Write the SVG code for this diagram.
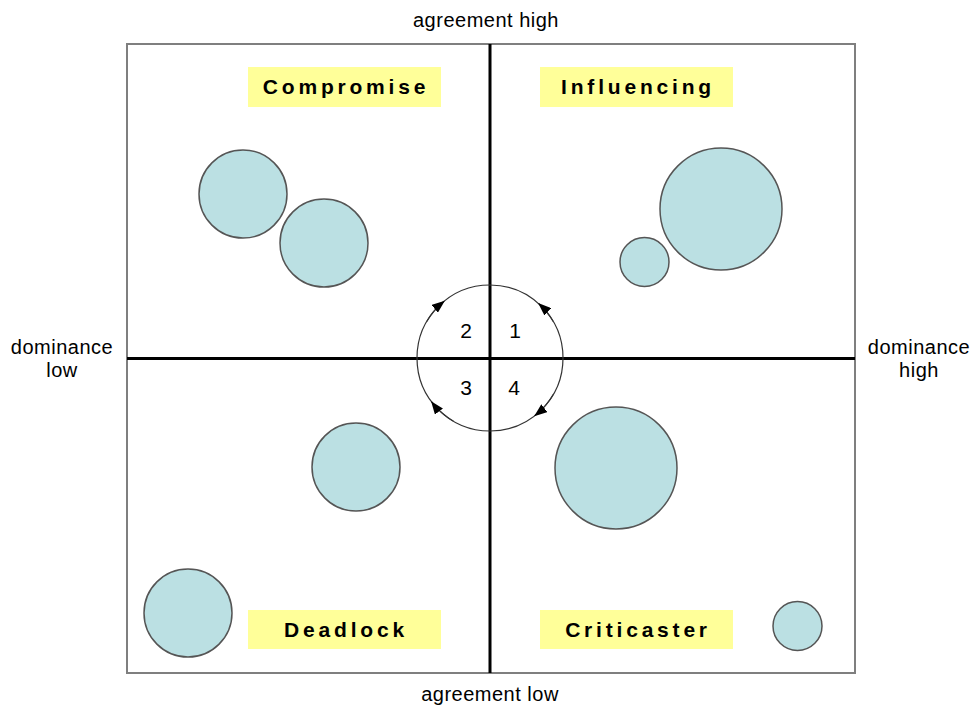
<svg xmlns="http://www.w3.org/2000/svg" width="973" height="707" viewBox="0 0 973 707">
  <style>
    .frame { fill: none; stroke: #7f7f7f; stroke-width: 2; }
    .axis { stroke: #000; stroke-width: 3; }
    .bubble { fill: #bbe0e3; stroke: #555; stroke-width: 1.5; }
    .tag { fill: #ffff99; }
    .tagtext { font-family: "Liberation Sans", Arial, sans-serif; font-weight: bold; font-size: 21px; letter-spacing: 3.8px; fill: #000; text-anchor: middle; }
    .axtext { font-family: "Liberation Sans", Arial, sans-serif; font-size: 20px; letter-spacing: 0.5px; fill: #000; text-anchor: middle; }
    .num { font-family: "Liberation Sans", Arial, sans-serif; font-size: 21px; fill: #000; text-anchor: middle; }
    .cycle { fill: none; stroke: #333; stroke-width: 1.2; }
  </style>
  <defs>
    <marker id="tip" viewBox="0 0 13 10" markerWidth="13" markerHeight="10" refX="12" refY="5" orient="auto" markerUnits="userSpaceOnUse">
      <path d="M0,0 L13,5 L0,10 z" fill="#000"/>
    </marker>
  </defs>

  <rect width="973" height="707" fill="#fff"/>

  <!-- quadrant frame and axes -->
  <g id="grid">
    <rect class="frame" x="127" y="44" width="728" height="629"/>
    <line class="axis" x1="127" y1="358.5" x2="855" y2="358.5"/>
    <line class="axis" x1="490" y1="44" x2="490" y2="673"/>
  </g>

  <!-- axis labels -->
  <g id="axis-labels">
    <text class="axtext" x="486" y="27">agreement high</text>
    <text class="axtext" x="490" y="701">agreement low</text>
    <text class="axtext" x="62" y="354">dominance</text>
    <text class="axtext" x="62" y="377">low</text>
    <text class="axtext" x="919" y="354">dominance</text>
    <text class="axtext" x="919" y="377">high</text>
  </g>

  <!-- quadrant titles -->
  <g id="compromise">
    <rect class="tag" x="248" y="67" width="193" height="40"/>
    <text class="tagtext" x="346" y="94">Compromise</text>
  </g>
  <g id="influencing">
    <rect class="tag" x="540" y="67" width="193" height="40"/>
    <text class="tagtext" x="638" y="94">Influencing</text>
  </g>
  <g id="deadlock">
    <rect class="tag" x="248" y="610" width="193" height="39"/>
    <text class="tagtext" x="346" y="637">Deadlock</text>
  </g>
  <g id="criticaster">
    <rect class="tag" x="540" y="610" width="193" height="39"/>
    <text class="tagtext" x="638" y="637">Criticaster</text>
  </g>

  <!-- bubbles -->
  <g id="bubbles">
    <circle class="bubble" cx="243" cy="194" r="44"/>
    <circle class="bubble" cx="324" cy="243" r="44"/>
    <circle class="bubble" cx="721" cy="209" r="61"/>
    <circle class="bubble" cx="644.5" cy="262" r="24.5"/>
    <circle class="bubble" cx="356" cy="467" r="44"/>
    <circle class="bubble" cx="616" cy="468" r="61"/>
    <circle class="bubble" cx="188" cy="613" r="44"/>
    <circle class="bubble" cx="797.5" cy="626" r="24.5"/>
  </g>

  <!-- cycle around the origin -->
  <g id="cycle">
    <circle class="cycle" cx="490" cy="358" r="73"/>
    <path class="cycle" d="M426.78,321.5 A73,73 0 0 1 444.06,301.27" marker-end="url(#tip)"/>
    <path class="cycle" d="M553.22,321.5 A73,73 0 0 0 538.85,303.75" marker-end="url(#tip)"/>
    <path class="cycle" d="M453.5,421.22 A73,73 0 0 1 431.7,401.93" marker-end="url(#tip)"/>
    <path class="cycle" d="M553.22,394.5 A73,73 0 0 1 534.94,415.53" marker-end="url(#tip)"/>
    <text class="num" x="466" y="338">2</text>
    <text class="num" x="515" y="338">1</text>
    <text class="num" x="466" y="395">3</text>
    <text class="num" x="514" y="395">4</text>
  </g>
</svg>
